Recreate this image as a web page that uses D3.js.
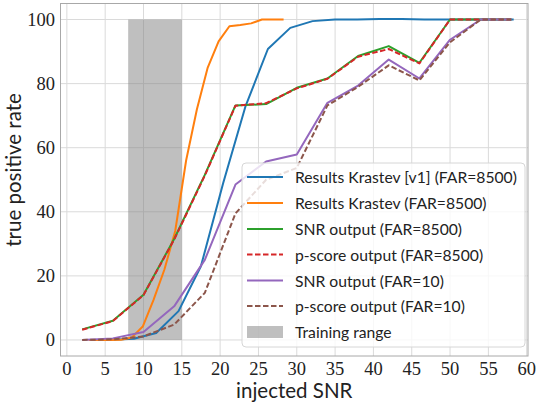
<!DOCTYPE html>
<html>
  <head>
    <meta charset="utf-8">
    <title>True positive rate vs injected SNR</title>
    <script src="https://d3js.org/d3.v7.min.js"></script>
    <style>
      body { margin: 0; background: white; }
      .grid line { stroke: #dadada; stroke-width: 1; }
      .frame { fill: none; stroke: #a8a8a8; stroke-width: 1; }
      .tick-label { font-family: "Liberation Serif", serif; font-size: 18.5px; fill: #222; }
      .axis-label { font-family: Lato, sans-serif; font-size: 20.5px; fill: #222; }
      .legend text { font-family: Lato, sans-serif; font-size: 17px; fill: #222; }
      .series { fill: none; stroke-width: 2; stroke-linejoin: round; }
    </style>
  </head>
  <body>
    <script>
      // Krastev curves are sampled on their own SNR grids
      var krastevV1Snr = [2.91, 5.83, 8.74, 11.66, 14.57, 17.49, 20.4, 23.32, 26.23, 29.15, 32.06, 34.98, 37.89, 40.81, 43.72, 46.64, 49.55, 52.47, 55.38, 58.3];
      var krastevV1Tpr = [0, 0.1, 0.4, 2.2, 9, 23, 49, 73, 90.8, 97.4, 99.5, 100, 100, 100.2, 100.2, 100, 100, 100, 100, 100];
      var krastevSnr = [2.83, 4.24, 5.66, 7.07, 8.49, 9.9, 11.31, 12.73, 14.14, 15.56, 16.97, 18.38, 19.8, 21.21, 22.63, 24.04, 25.46, 26.87, 28.28];
      var krastevTpr = [0, 0, 0, 0.1, 0.8, 4.2, 12.5, 22, 34, 56, 72, 85, 93.2, 97.9, 98.3, 98.8, 100, 100, 100];

      var snr = [2, 6, 10, 14, 18, 22, 26, 30, 34, 38, 42, 46, 50, 54, 58];
      var snrOut8500 = [3.3, 6, 14.1, 31.5, 51.5, 73.2, 73.6, 78.7, 81.6, 88.6, 91.7, 86.5, 100, 100, 100];
      var pscore8500 = [3.2, 5.9, 14, 31.3, 51.3, 73.1, 73.9, 78.5, 81.5, 88.4, 90.8, 86.3, 100, 100, 100];
      var snrOut10 = [0, 0.5, 2.5, 10.5, 25, 48.5, 55.7, 57.9, 74, 79.4, 87.5, 81.6, 93.7, 100, 100];
      var pscore10 = [0, 0.2, 1.1, 4.8, 14.7, 39.5, 50, 53.7, 73.2, 79, 85.7, 81, 92.9, 100, 100];

      var trainingRange = [8, 15];
      var xTicks = [0, 5, 10, 15, 20, 25, 30, 35, 40, 45, 50, 55, 60];
      var yTicks = [0, 20, 40, 60, 80, 100];

      var W = 537, H = 402;
      var L = 60.5, R = 528, T = 3.5, B = 356;

      var svg = d3.select('body').append('svg').attr('width', W).attr('height', H);

      var x = d3.scaleLinear().domain([-0.83, 60.17]).range([L, R]);
      var y = d3.scaleLinear().domain([-5, 105]).range([B, T]);

      var grid = svg.append('g').attr('class', 'grid');
      grid.selectAll('.gx').data(xTicks).enter().append('line')
        .attr('x1', function(d){ return x(d) }).attr('x2', function(d){ return x(d) })
        .attr('y1', T).attr('y2', B);
      grid.selectAll('.gy').data(yTicks).enter().append('line')
        .attr('y1', function(d){ return y(d) }).attr('y2', function(d){ return y(d) })
        .attr('x1', L).attr('x2', R);

      svg.append('rect')
        .attr('x', x(trainingRange[0])).attr('width', x(trainingRange[1]) - x(trainingRange[0]))
        .attr('y', y(100)).attr('height', y(0) - y(100))
        .attr('fill', 'gray').attr('fill-opacity', 0.5);

      var series = [
        { xs: krastevV1Snr, ys: krastevV1Tpr, color: '#1f77b4', dash: null, label: 'Results Krastev [v1] (FAR=8500)' },
        { xs: krastevSnr, ys: krastevTpr, color: '#ff7f0e', dash: null, label: 'Results Krastev (FAR=8500)' },
        { xs: snr, ys: snrOut8500, color: '#2ca02c', dash: null, label: 'SNR output (FAR=8500)' },
        { xs: snr, ys: pscore8500, color: '#d62728', dash: '5.5,2.5', label: 'p-score output (FAR=8500)' },
        { xs: snr, ys: snrOut10, color: '#9467bd', dash: null, label: 'SNR output (FAR=10)' },
        { xs: snr, ys: pscore10, color: '#8c564b', dash: '5.5,2.5', label: 'p-score output (FAR=10)' }
      ];

      var line = d3.line()
        .x(function(d){ return x(d[0]) })
        .y(function(d){ return y(d[1]) });

      series.forEach(function(s){
        svg.append('path')
          .datum(d3.zip(s.xs, s.ys))
          .attr('class', 'series')
          .attr('d', line)
          .attr('stroke', s.color)
          .attr('stroke-dasharray', s.dash);
      });

      svg.append('rect').attr('class', 'frame')
        .attr('x', L).attr('y', T).attr('width', R - L).attr('height', B - T);

      svg.selectAll('.xt').data(xTicks).enter().append('text')
        .attr('class', 'tick-label')
        .attr('x', function(d){ return x(d) }).attr('y', 374.5)
        .attr('text-anchor', 'middle')
        .text(function(d){ return d });

      svg.selectAll('.yt').data(yTicks).enter().append('text')
        .attr('class', 'tick-label')
        .attr('x', 55).attr('y', function(d){ return y(d) + 6.5 })
        .attr('text-anchor', 'end')
        .text(function(d){ return d });

      svg.append('text').attr('class', 'axis-label')
        .attr('x', (L + R) / 2).attr('y', 397.5)
        .attr('text-anchor', 'middle')
        .text('injected SNR');

      svg.append('text').attr('class', 'axis-label')
        .attr('transform', 'translate(21,' + 170 + ') rotate(-90)')
        .attr('text-anchor', 'middle')
        .text('true positive rate');

      // legend
      var legend = svg.append('g').attr('class', 'legend');
      legend.append('rect')
        .attr('x', 242).attr('y', 163).attr('width', 283).attr('height', 184)
        .attr('rx', 4).attr('fill', 'white').attr('fill-opacity', 0.8)
        .attr('stroke', '#d6d6d6');

      var rowY = [177, 203, 229, 254.5, 280.5, 306, 332];
      series.forEach(function(s, i){
        legend.append('line')
          .attr('x1', 247).attr('x2', 283).attr('y1', rowY[i]).attr('y2', rowY[i])
          .attr('stroke', s.color).attr('stroke-width', 2)
          .attr('stroke-dasharray', s.dash);
        legend.append('text').attr('x', 295).attr('y', rowY[i] + 6).text(s.label);
      });
      legend.append('rect')
        .attr('x', 247).attr('y', 326).attr('width', 36).attr('height', 12)
        .attr('fill', 'gray').attr('fill-opacity', 0.5);
      legend.append('text').attr('x', 295).attr('y', 332 + 6).text('Training range');

      // size legend text so the longest label spans about 222px, like the original
      var labels = legend.selectAll('text');
      var widest = d3.max(labels.nodes(), function(n){ return n.getComputedTextLength() });
      var fs = Math.min(18, 17 * 222 / widest);
      labels.style('font-size', fs + 'px');
    </script>
  </body>
</html>
